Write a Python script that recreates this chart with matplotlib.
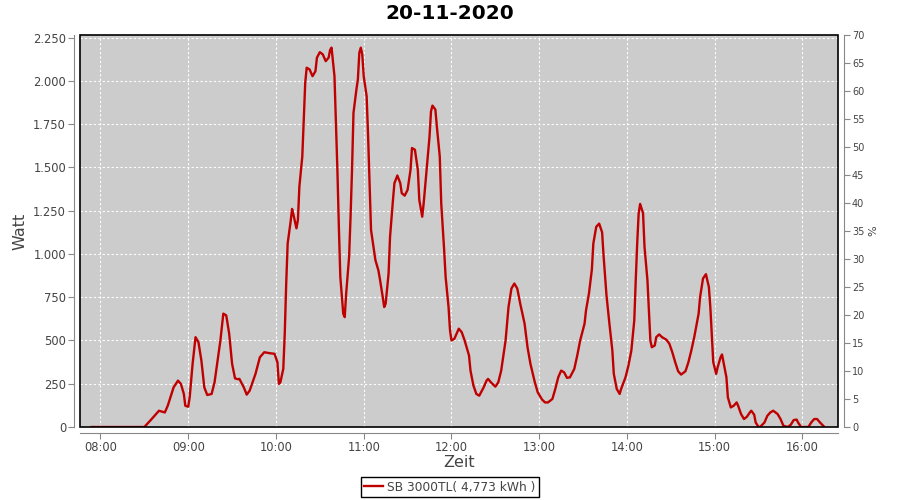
import matplotlib
matplotlib.use("Agg")
import matplotlib.pyplot as plt
from matplotlib.ticker import FuncFormatter, MultipleLocator
from matplotlib.patches import Rectangle

# Ertrag SB 3000TL, 20-11-2020
times = [
    "07:54", "08:30", "08:35", "08:40", "08:44", "08:46", "08:50", "08:53", "08:55", "08:57",
    "08:58", "09:00", "09:01", "09:03", "09:05", "09:07", "09:09", "09:11", "09:13", "09:16",
    "09:18", "09:22", "09:24", "09:26", "09:28", "09:30", "09:32", "09:34", "09:35", "09:38",
    "09:40", "09:42", "09:46", "09:49", "09:52", "09:56", "09:59", "10:01", "10:02", "10:03",
    "10:05", "10:06", "10:07", "10:08", "10:10", "10:11", "10:12", "10:14", "10:15", "10:16",
    "10:18", "10:19", "10:20", "10:21", "10:23", "10:25", "10:27", "10:28", "10:30", "10:32",
    "10:34", "10:36", "10:37", "10:38", "10:40", "10:41", "10:42", "10:43", "10:44", "10:46",
    "10:47", "10:48", "10:50", "10:51", "10:52", "10:53", "10:55", "10:56", "10:57", "10:58",
    "10:59", "11:00", "11:02", "11:03", "11:04", "11:05", "11:07", "11:08", "11:10", "11:11",
    "11:13", "11:14", "11:15", "11:17", "11:18", "11:20", "11:21", "11:23", "11:25", "11:26",
    "11:28", "11:30", "11:32", "11:33", "11:35", "11:37", "11:38", "11:40", "11:41", "11:43",
    "11:45", "11:46", "11:47", "11:49", "11:50", "11:52", "11:53", "11:55", "11:56", "11:58",
    "11:59", "12:00", "12:02", "12:04", "12:05", "12:07", "12:09", "12:12", "12:13", "12:15",
    "12:17", "12:19", "12:22", "12:24", "12:25", "12:27", "12:30", "12:32", "12:34", "12:37",
    "12:39", "12:41", "12:43", "12:45", "12:47", "12:50", "12:52", "12:54", "12:57", "12:59",
    "13:02", "13:04", "13:06", "13:09", "13:11", "13:13", "13:15", "13:17", "13:19", "13:21",
    "13:24", "13:26", "13:28", "13:31", "13:32", "13:34", "13:36", "13:37", "13:39", "13:41",
    "13:43", "13:44", "13:46", "13:48", "13:50", "13:51", "13:53", "13:55", "13:56", "13:59",
    "14:01", "14:03", "14:05", "14:06", "14:07", "14:08", "14:09", "14:11", "14:12", "14:14",
    "14:15", "14:16", "14:17", "14:19", "14:20", "14:22", "14:24", "14:27", "14:29", "14:31",
    "14:33", "14:35", "14:37", "14:40", "14:42", "14:44", "14:46", "14:49", "14:50", "14:52",
    "14:54", "14:56", "14:57", "14:58", "14:59", "15:01", "15:02", "15:04", "15:05", "15:06",
    "15:08", "15:09", "15:11", "15:13", "15:15", "15:16", "15:18", "15:20", "15:22", "15:24",
    "15:25", "15:27", "15:28", "15:30", "15:31", "15:34", "15:36", "15:38", "15:40", "15:43",
    "15:45", "15:47", "15:50", "15:52", "15:54", "15:56", "15:57", "15:59", "16:04", "16:06",
    "16:08", "16:10", "16:12", "16:15",
]
watt = [
    0, 0, 46, 94, 84, 123, 229, 268, 249, 191,
    123, 117, 171, 365, 519, 490, 384, 229, 185, 191,
    258, 500, 655, 645, 539, 365, 281, 276, 278, 229,
    187, 210, 307, 403, 432, 426, 423, 374, 249, 258,
    336, 539, 829, 1061, 1186, 1260, 1225, 1148, 1196, 1389,
    1563, 1776, 1989, 2076, 2066, 2027, 2056, 2134, 2166, 2153,
    2114, 2134, 2178, 2192, 2027, 1757, 1486, 1157, 867, 655,
    635, 771, 983, 1215, 1486, 1815, 1950, 2008, 2163, 2192,
    2153, 2027, 1911, 1679, 1409, 1138, 1022, 964, 906, 858,
    751, 693, 713, 887, 1099, 1312, 1409, 1453, 1409, 1351,
    1337, 1370, 1486, 1612, 1602, 1486, 1312, 1215, 1293, 1486,
    1679, 1824, 1857, 1834, 1737, 1563, 1293, 1022, 867, 693,
    558, 500, 510, 548, 568, 548, 500, 413, 326, 240,
    191, 181, 229, 268, 278, 258, 233, 258, 326, 500,
    693, 800, 829, 800, 713, 597, 461, 365, 258, 200,
    158, 142, 142, 162, 220, 287, 326, 316, 284, 287,
    336, 413, 500, 597, 674, 771, 910, 1060, 1157, 1175,
    1125, 990, 760, 597, 442, 307, 220, 191, 220, 287,
    355, 442, 616, 848, 1061, 1235, 1289, 1235, 1041, 848,
    674, 500, 461, 471, 519, 535, 519, 504, 481, 432,
    374, 322, 303, 322, 374, 442, 519, 655, 751, 858,
    883, 809, 693, 530, 375, 307, 345, 403, 419, 374,
    287, 171, 113, 123, 142, 123, 75, 46, 59, 84,
    94, 71, 26, 0, 0, 26, 65, 84, 94, 75,
    46, 7, 0, 13, 40, 43, 26, 0, 0, 26,
    46, 46, 26, 0,
]
hour_ticks = [8, 9, 10, 11, 12, 13, 14, 15, 16]
series_label = "SB 3000TL( 4,773 kWh )"


def to_hours(t):
    h, m = t.split(":")
    return int(h) + int(m) / 60.0


x = [to_hours(t) for t in times]

grey_txt = "#444444"
fig = plt.figure(figsize=(9, 5), dpi=100)
ax = fig.add_axes([80 / 900, 1 - 427 / 500, 758 / 900, 392 / 500])
ax.set_facecolor("#cccccc")

ax.plot(x, watt, color="#c00000", lw=1.7, zorder=3)

ax.set_xlim(to_hours("07:46"), to_hours("16:24") + 0.005)
ax.set_ylim(0, 2265)
ax.set_xticks(hour_ticks)
ax.xaxis.set_major_formatter(FuncFormatter(lambda v, p: "%02d:00" % round(v)))
ax.yaxis.set_major_locator(MultipleLocator(250))
ax.yaxis.set_major_formatter(FuncFormatter(lambda v, p: f"{int(v):,}".replace(",", ".")))

ax.grid(True, color="white", linestyle=(0, (2, 2)), linewidth=0.8)
ax.set_axisbelow(True)

# axes sit a few pixels off the plot outline
for side in ["left", "bottom"]:
    ax.spines[side].set_position(("outward", 4))
    ax.spines[side].set_color("#888888")
ax.spines["top"].set_visible(False)
ax.spines["right"].set_visible(False)
ax.add_patch(Rectangle((0, 0), 1, 1, transform=ax.transAxes, fill=False,
                       edgecolor="black", lw=1.2, zorder=5, clip_on=False))
ax.tick_params(colors="#888888", labelcolor=grey_txt, labelsize=8.3, length=4, pad=2)

ax2 = ax.twinx()
ax2.set_ylim(0, 70)
ax2.yaxis.set_major_locator(MultipleLocator(5))
for side in ["left", "bottom", "top"]:
    ax2.spines[side].set_visible(False)
ax2.spines["right"].set_position(("outward", 4))
ax2.spines["right"].set_color("#888888")
ax2.tick_params(colors="#888888", labelcolor=grey_txt, labelsize=7, length=4, pad=2)
ax2.set_ylabel("%", fontsize=8, color=grey_txt, labelpad=3)

ax.set_xlabel("Zeit", fontsize=11.5, color=grey_txt, labelpad=1)
ax.set_ylabel("Watt", fontsize=11.5, color=grey_txt, labelpad=4)
fig.suptitle("20-11-2020", fontsize=14.5, fontweight="bold", y=0.992)

leg = fig.legend(ax.get_lines(), [series_label], loc="center",
                 bbox_to_anchor=(0.5, 1 - 487 / 500), fancybox=False,
                 edgecolor="black", fontsize=8.8, handlelength=1.5,
                 borderpad=0.3, handletextpad=0.4, framealpha=1)
leg.get_frame().set_linewidth(1)
for t in leg.get_texts():
    t.set_color(grey_txt)

fig.savefig("out.png", dpi=100)
